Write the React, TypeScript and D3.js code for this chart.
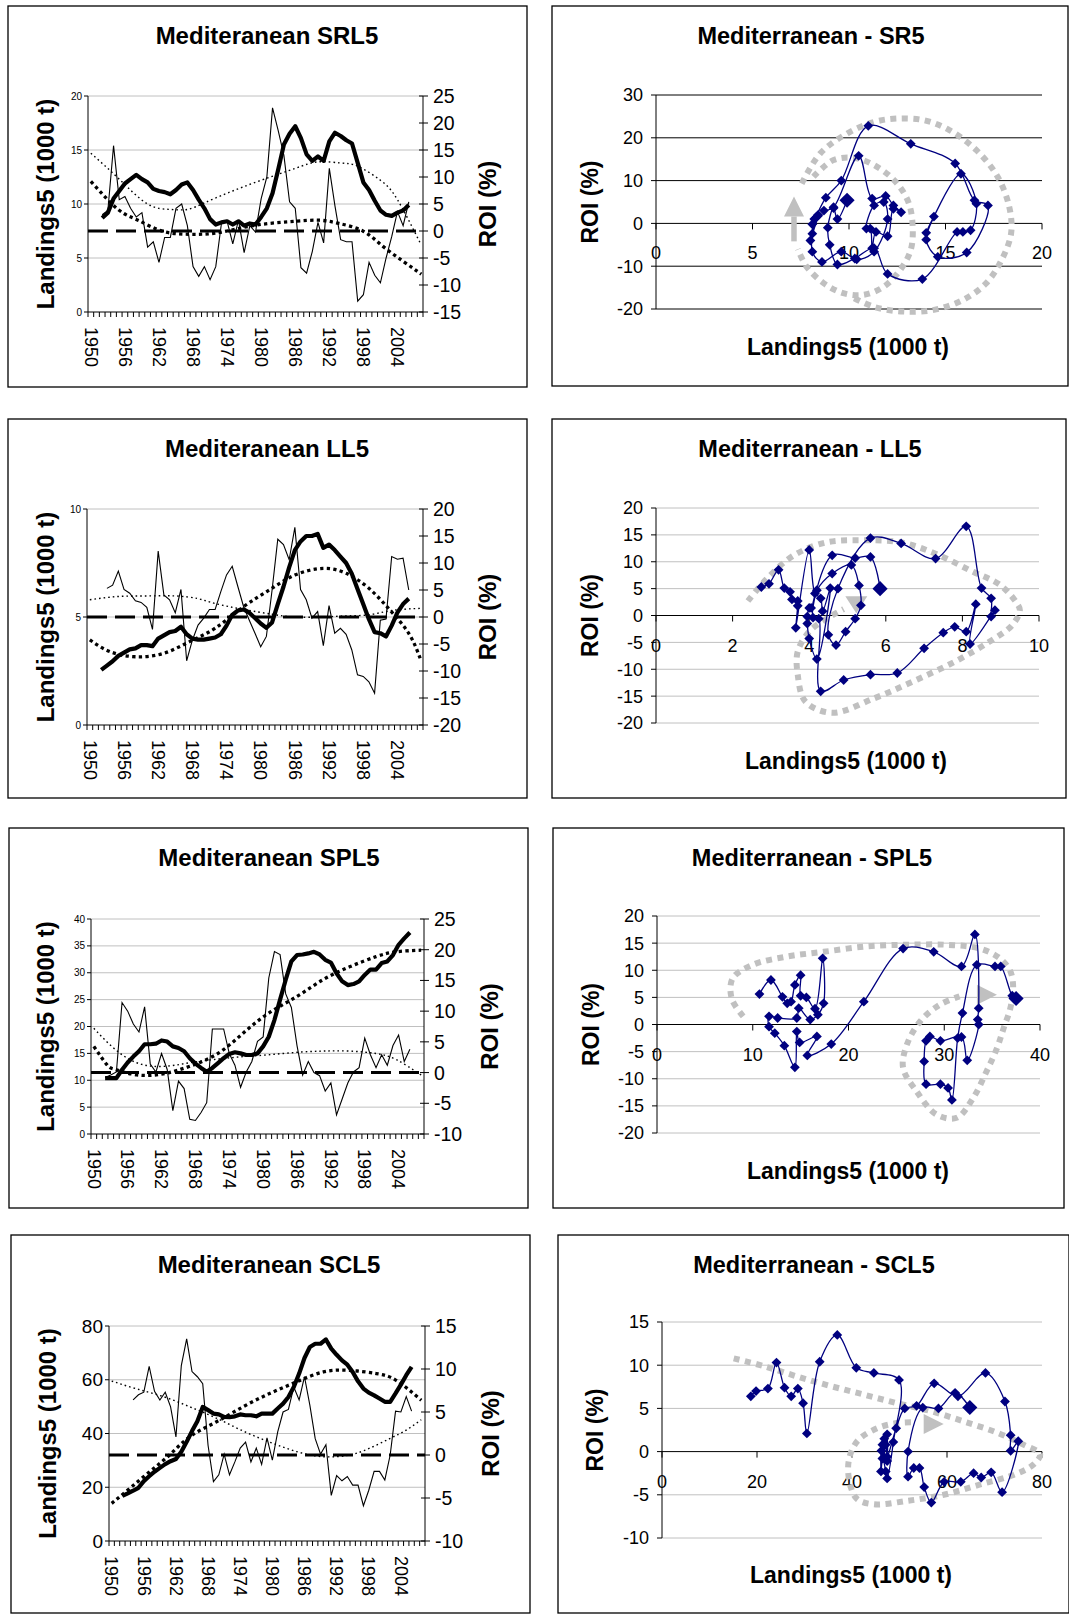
import * as d3 from "d3";

const WIDTH = 1069;
const HEIGHT = 1614;
const FONT = "Arial, 'Liberation Sans', sans-serif";
const NAVY = "#000080";
const GUIDE = "#c0c0c0";

type Pt = [number, number];

// category axis of the time panels (one band per year)
const yearCats = d3.range(1950, 2009);
const dataYears = d3.range(1952, 2007);
const yearLabels = yearCats.filter((y) => (y - 1950) % 6 === 0);

// ---- SRL5 / SR5 ----
const srl5Landings = [8.7, 9.2, 10.5, 11.2, 11.9, 12.3, 12.7, 12.3, 12.0, 11.4, 11.2, 11.1, 10.9, 11.3, 11.8, 12.0, 11.3, 10.4, 9.6, 8.6, 8.1, 8.3, 8.4, 8.1, 8.4, 8.0, 8.2, 8.1, 8.8, 9.6, 11.0, 13.2, 15.5, 16.5, 17.2, 16.1, 14.6, 14.0, 14.4, 14.0, 15.8, 16.6, 16.3, 15.9, 15.6, 13.8, 12.0, 11.3, 10.3, 9.4, 9.0, 8.9, 9.2, 9.4, 9.9];
const srl5Roi = [3.0, 3.8, 15.8, 5.8, 6.4, 4.2, 2.6, 3.4, -3.0, -2.0, -5.8, -1.2, -1.2, 4.2, 5.0, 1.0, -6.6, -8.4, -6.6, -9.0, -6.6, 1.4, 1.8, -2.4, 2.0, -4.0, 1.0, -0.2, 6.0, 10.0, 22.8, 18.6, 14.0, 5.4, 4.2, -6.8, -7.8, -3.8, 1.6, -2.2, 11.6, 4.6, -1.6, -2.0, -2.0, -13.0, -11.8, -5.8, -8.2, -9.6, -5.0, -1.0, 3.6, 1.0, 5.4];
const srl5LandTrend: Pt[] = [[1950, 14.7], [1955, 12.3], [1960, 10.0], [1964, 9.5], [1967, 9.5], [1970, 10.1], [1974, 11.0], [1980, 12.2], [1986, 13.3], [1990, 13.9], [1994, 13.8], [1997, 13.5], [2001, 12.2], [2004, 10.4], [2008, 6.4]];
const srl5RoiTrend: Pt[] = [[1950, 9.2], [1954.8, 4.0], [1958.3, 2.0], [1962.5, 0.0], [1967.2, -0.6], [1971.9, -0.4], [1976.6, 0.6], [1981.4, 1.4], [1986.1, 1.8], [1990.2, 2.0], [1993.7, 1.4], [1997.9, 0.0], [2001.4, -2.8], [2005, -5.6], [2008.2, -8.0]];
const sr5GuideInner: Pt[] = [[8.16, 10.9], [9.2, 14.8], [10.4, 15.2], [11.6, 12.8], [12.5, 9.3], [13.1, 4.7], [13.3, -0.8], [13.2, -6.2], [12.65, -10.9], [11.8, -14.8], [10.75, -16.7], [9.7, -16.3], [8.7, -14.0], [7.8, -10.1], [7.35, -6.0]];
const sr5GuideOuter: Pt[] = [[7.55, 9.3], [8.5, 16.3], [9.9, 21.0], [11.3, 23.7], [12.5, 24.5], [13.9, 24.1], [15.2, 21.8], [16.6, 17.1], [17.7, 10.9], [18.3, 3.9], [18.4, -2.3], [17.9, -8.6], [17.1, -14.0], [15.9, -17.9], [14.4, -20.2], [12.8, -20.6], [11.3, -19.5], [10.1, -17.1]];
const sr5ArrowShaft: Pt[] = [[7.15, -4.2], [7.15, 1.6]];
const sr5Arrow: Pt = [7.15, 6.3];

// ---- LL5 ----
const ll5Landings = [2.55, 2.75, 2.95, 3.2, 3.35, 3.5, 3.55, 3.7, 3.7, 3.65, 4.0, 4.15, 4.3, 4.35, 4.55, 4.2, 4.0, 3.95, 3.95, 4.0, 4.05, 4.2, 4.6, 5.1, 5.3, 5.35, 5.2, 4.95, 4.7, 4.5, 4.75, 5.6, 6.4, 7.3, 8.1, 8.5, 8.75, 8.75, 8.85, 8.2, 8.35, 8.1, 7.8, 7.5, 7.0, 6.3, 5.6, 4.9, 4.3, 4.25, 4.1, 4.6, 5.2, 5.6, 5.85];
const ll5Roi = [null, 5.3, 5.9, 8.5, 5.1, 4.4, 3.0, 2.7, 1.8, -2.3, 12.2, 4.1, 3.2, 0.8, 5.1, -8.1, -4.3, -1.5, -0.2, 1.4, 1.4, 4.7, 7.8, 9.4, 5.6, 1.9, -0.6, -3.0, -5.5, -3.6, 5.0, 14.4, 13.4, 10.6, 16.6, 5.1, 3.2, -0.2, 1.0, -5.3, 2.1, -3.0, -2.1, -3.2, -6.1, -10.7, -11.0, -12.0, -14.1, -0.6, -0.4, 11.2, 10.7, 10.9, 5.0];
const ll5LandTrend: Pt[] = [[1950, 3.94], [1953.5, 3.4], [1958, 3.16], [1963, 3.32], [1967.5, 3.86], [1972, 4.48], [1977, 5.48], [1981.5, 6.25], [1986, 6.94], [1991, 7.25], [1995, 7.02], [1999, 6.33], [2002.7, 5.32], [2006, 4.24], [2008, 3.09]];
const ll5RoiTrend: Pt[] = [[1950, 3.2], [1955, 3.8], [1960, 3.9], [1965, 3.9], [1969, 3.4], [1972, 2.5], [1977, 1.4], [1982, 0.5], [1986, 0], [1991, 0], [1995, 0.2], [1999, 0.4], [2003, 1.2], [2008, 1.6]];
const ll5Guide: Pt[] = [[2.4, 2.7], [2.9, 6.9], [3.6, 11.2], [4.45, 13.6], [5.4, 14.0], [6.4, 13.6], [7.3, 11.5], [8.2, 8.4], [9.0, 5.6], [9.4, 2.5], [9.5, 1.0], [9.3, -1.8], [8.7, -4.9], [7.8, -8.6], [6.7, -12.3], [5.7, -15.4], [4.6, -18.1], [3.9, -16], [3.7, -11], [3.7, -6.7], [4.0, -3.0], [4.45, -0.6], [4.9, 1.2]];
const ll5Arrow: Pt = [5.23, 0.4];

// ---- SPL5 ----
const spl5Landings = [10.4, 10.4, 10.4, 11.95, 13.3, 14.4, 15.4, 16.7, 16.7, 16.8, 17.4, 17.2, 16.3, 16.0, 15.4, 14.1, 13.1, 12.3, 11.6, 12.3, 13.2, 14.1, 14.9, 15.2, 15.0, 14.7, 14.7, 15.0, 16.3, 18.1, 21.2, 25.0, 28.7, 32.1, 33.3, 33.4, 33.6, 33.9, 33.4, 32.4, 31.9, 29.9, 28.4, 27.7, 27.9, 28.4, 29.6, 30.6, 30.6, 31.8, 32.1, 33.3, 35.2, 36.4, 37.5];
const spl5Roi = [-0.8, -0.4, 0.1, 11.4, 10.0, 7.9, 6.6, 10.7, 1.4, 0.1, 3.1, 0.5, -6.2, -1.4, -2.6, -7.6, -7.8, -6.5, -4.9, 7.1, 7.1, 7.1, 3.1, 1.2, -2.4, 0.1, 1.8, 5.1, 5.8, 15.4, 19.7, 19.2, 12.8, 10.6, 4.4, -0.4, 1.8, 0.0, -0.5, -3.0, -1.7, -6.9, -4.3, -1.7, 0.1, 0.8, 5.6, 2.9, 0.8, 2.9, 1.2, 4.4, 6.1, 1.8, 3.8];
const spl5LandTrend: Pt[] = [[1950, 16.3], [1952.3, 12.9], [1953.8, 12.0], [1957.6, 11.0], [1962.3, 11.2], [1967, 12.6], [1972, 15.0], [1976.5, 18.8], [1981, 22.5], [1986, 25.6], [1990.6, 28.7], [1995.3, 31.1], [2000, 33.0], [2003.6, 33.9], [2008, 34.2]];
const spl5RoiTrend: Pt[] = [[1950, 7.2], [1953.5, 4.0], [1957.6, 1.6], [1962.3, 1.0], [1967, 1.6], [1972, 2.2], [1976.5, 2.6], [1981, 2.9], [1986, 3.3], [1990.6, 3.5], [1995.3, 3.5], [2000, 3.1], [2003.6, 2.1], [2008, -0.4]];
// the phase plot of SPL5 is read separately (it does not follow the ROI line above)
const spl5PhaseX = [10.7, 11.9, 13.1, 13.6, 14.0, 14.4, 15.0, 15.0, 15.6, 16.5, 17.3, 17.4, 16.8, 16.0, 14.8, 14.6, 12.6, 11.7, 11.7, 12.3, 13.3, 14.4, 14.6, 14.9, 16.7, 15.7, 18.2, 21.6, 25.7, 28.9, 31.8, 33.2, 33.6, 33.5, 33.6, 32.4, 31.8, 29.6, 28.5, 28.1, 27.9, 28.1, 29.6, 30.4, 30.8, 31.4, 31.9, 33.4, 35.3, 35.9, 37.1, 37.5];
const spl5PhaseY = [5.6, 8.2, 5.1, 3.9, 4.2, 7.3, 9.1, 5.3, 5.0, 2.9, 12.2, 3.9, 1.8, 0.9, 3.0, 1.2, 1.2, 1.5, -0.4, -1.6, -3.9, -7.9, -1.3, -3.3, -2.2, -5.7, -3.6, 4.2, 14.0, 13.4, 10.7, 16.6, 3.0, 0.9, 0.0, -6.6, -2.3, -3.0, -2.2, -3.0, -6.8, -11.0, -11.0, -11.7, -13.9, -2.5, 2.1, 11.0, 10.7, 10.7, 5.3, 4.8];
const spl5Guide: Pt[] = [[9.0, 1.5], [7.8, 4.8], [7.9, 8.5], [10.0, 11.0], [13.5, 12.5], [17.4, 13.4], [21.9, 14.4], [26.1, 14.7], [30.2, 14.7], [33.7, 14.0], [35.8, 12.2], [36.9, 9.8], [37.2, 6.7], [36.9, 3.0], [36.2, -0.7], [35.5, -4.4], [34.4, -8.7], [33.0, -13.6], [31.3, -17.2], [29.2, -16.6], [27.1, -12.3], [25.7, -8.0], [26.1, -3.7], [27.5, 0.6], [29.5, 3.6], [31.6, 5.2]];
const spl5Arrow: Pt = [35.5, 5.5];

// ---- SCL5 ----
const scl5Landings = [16.8, 17.7, 18.7, 19.8, 22.3, 24.1, 25.8, 27.2, 28.6, 29.7, 30.5, 33.2, 36.9, 40.9, 44.6, 49.9, 48.7, 47.4, 47.1, 46.2, 46.1, 46.4, 47.1, 46.8, 46.8, 46.4, 47.4, 47.4, 47.4, 49.3, 51.1, 53.6, 57.3, 62.3, 68.1, 72.2, 73.4, 73.4, 75.0, 71.6, 69.3, 67.2, 65.6, 62.9, 59.4, 56.7, 55.2, 54.2, 53.0, 51.8, 51.8, 54.9, 58.2, 61.7, 64.8];
const scl5Roi = [null, null, 6.4, 7.0, 7.3, 10.3, 7.4, 6.4, 7.3, 5.6, 2.1, 10.4, 13.5, 9.7, 9.1, 8.3, 1.1, -3.1, -2.3, 0.1, -2.3, -0.8, 0.8, 1.5, -0.8, 0.8, -1.1, 2.0, -0.6, 2.7, 5.0, 5.3, 7.9, 6.4, 9.1, 5.8, 1.9, 0.1, 1.2, -4.7, -2.4, -3.0, -2.5, -3.5, -3.5, -5.9, -4.1, -1.9, -1.9, -2.9, 0.0, 5.1, 5.0, 6.8, 5.1];
const scl5LandTrend: Pt[] = [[1950, 14.0], [1953.4, 19.6], [1957.1, 25.8], [1960.8, 32.0], [1964.6, 38.8], [1969.5, 44.3], [1974.5, 49.9], [1979.5, 54.9], [1984.5, 59.2], [1989.5, 62.9], [1994.4, 63.5], [1999.4, 62.3], [2003.1, 59.8], [2007.8, 52.4]];
const scl5RoiTrend: Pt[] = [[1950, 8.6], [1954.6, 7.7], [1959.6, 6.8], [1964.6, 5.6], [1969.5, 4.3], [1974.5, 2.8], [1979.5, 1.5], [1984.5, 0.4], [1989.5, -0.2], [1994.4, 0.0], [1998.2, 0.8], [2001.9, 1.9], [2005, 2.9], [2007.8, 4.1]];
const scl5Guide: Pt[] = [[15.1, 10.8], [21.4, 9.9], [28.4, 8.7], [35.4, 7.6], [42.5, 6.6], [49.5, 5.6], [56.5, 4.7], [63.5, 3.5], [70.5, 2.2], [76.1, 0.8], [79.6, -0.3], [78.2, -1.5], [74.0, -2.7], [67.0, -3.8], [59.3, -5.0], [51.6, -5.7], [44.6, -6.1], [41.1, -5.5], [39.6, -3.8], [39.3, -1.1], [41.1, 1.2], [45.3, 2.7], [49.5, 3.3], [53.0, 3.4]];
const scl5Arrow: Pt = [59.3, 3.2];

const step = (a: number, b: number, s: number) => d3.range(a, b + s / 2, s);

const timePanels = [
  { title: "Mediteranean SRL5", box: [8, 6, 519, 381], plot: { x0: 88, x1: 423, yTop: 96, yBot: 312 }, left: [0, 20], leftTicks: step(0, 20, 5), leftFont: 10, right: [-15, 25], rightTicks: step(-15, 25, 5), landings: srl5Landings, roi: srl5Roi, landTrend: srl5LandTrend, roiTrend: srl5RoiTrend, landThick: false, titleX: 267, labelL: 46, labelR: 488 },
  { title: "Mediteranean LL5", box: [8, 419, 519, 379], plot: { x0: 87, x1: 423, yTop: 509, yBot: 725 }, left: [0, 10], leftTicks: step(0, 10, 5), leftFont: 10, right: [-20, 20], rightTicks: step(-20, 20, 5), landings: ll5Landings, roi: ll5Roi, landTrend: ll5LandTrend, roiTrend: ll5RoiTrend, landThick: true, titleX: 267, labelL: 46, labelR: 488 },
  { title: "Mediteranean SPL5", box: [9, 828, 519, 380], plot: { x0: 91, x1: 424, yTop: 919, yBot: 1134 }, left: [0, 40], leftTicks: step(0, 40, 5), leftFont: 10, right: [-10, 25], rightTicks: step(-10, 25, 5), landings: spl5Landings, roi: spl5Roi, landTrend: spl5LandTrend, roiTrend: spl5RoiTrend, landThick: true, titleX: 269, labelL: 46, labelR: 490 },
  { title: "Mediteranean SCL5", box: [11, 1235, 519, 378], plot: { x0: 109, x1: 425, yTop: 1326, yBot: 1541 }, left: [0, 80], leftTicks: step(0, 80, 20), leftFont: 19, right: [-10, 15], rightTicks: step(-10, 15, 5), landings: scl5Landings, roi: scl5Roi, landTrend: scl5LandTrend, roiTrend: scl5RoiTrend, landThick: true, titleX: 269, labelL: 48, labelR: 491 },
];

const phasePanels = [
  { title: "Mediterranean - SR5", box: [552, 6, 516, 380], plot: { x0: 656, x1: 1042, yTop: 95, yBot: 309 }, xDom: [0, 20], xTicks: step(0, 20, 5), yDom: [-20, 30], yTicks: step(-20, 30, 10), grid: "#000", xs: srl5Landings, ys: srl5Roi, guides: [sr5GuideInner, sr5GuideOuter], shaft: sr5ArrowShaft, arrow: sr5Arrow, arrowDir: "up", titleX: 811, labelY: 590, labelX: 848, labelXBase: 355 },
  { title: "Mediterranean - LL5", box: [552, 419, 514, 379], plot: { x0: 656, x1: 1039, yTop: 508, yBot: 723 }, xDom: [0, 10], xTicks: step(0, 10, 2), yDom: [-20, 20], yTicks: step(-20, 20, 5), grid: "#c0c0c0", xs: ll5Landings, ys: ll5Roi, guides: [ll5Guide], shaft: null, arrow: ll5Arrow, arrowDir: "down", titleX: 810, labelY: 590, labelX: 846, labelXBase: 769 },
  { title: "Mediterranean - SPL5", box: [553, 828, 511, 380], plot: { x0: 657, x1: 1040, yTop: 916, yBot: 1133 }, xDom: [0, 40], xTicks: step(0, 40, 10), yDom: [-20, 20], yTicks: step(-20, 20, 5), grid: "#c0c0c0", xs: spl5PhaseX, ys: spl5PhaseY, guides: [spl5Guide], shaft: null, arrow: spl5Arrow, arrowDir: "right", titleX: 812, labelY: 591, labelX: 848, labelXBase: 1179 },
  { title: "Mediterranean - SCL5", box: [558, 1235, 511, 378], plot: { x0: 662, x1: 1042, yTop: 1322, yBot: 1538 }, xDom: [0, 80], xTicks: step(0, 80, 20), yDom: [-10, 15], yTicks: step(-10, 15, 5), grid: "#c0c0c0", xs: scl5Landings, ys: scl5Roi, guides: [scl5Guide], shaft: null, arrow: scl5Arrow, arrowDir: "right", titleX: 814, labelY: 595, labelX: 851, labelXBase: 1583 },
];

function TimePanel({ c }: { c: any }) {
  const { x0, x1, yTop, yBot } = c.plot;
  const band = d3.scaleBand<number>().domain(yearCats).range([x0, x1]);
  const bw = band.bandwidth();
  const xYear = d3.scaleLinear().domain([1949.5, 2008.5]).range([x0, x1]);
  const yL = d3.scaleLinear().domain(c.left).range([yBot, yTop]);
  const yR = d3.scaleLinear().domain(c.right).range([yBot, yTop]);

  const landPath = d3.line<number>().x((_, i) => xYear(dataYears[i])).y((d) => yL(d))(c.landings);
  const roiPath = d3
    .line<number | null>()
    .defined((d) => d !== null)
    .x((_, i) => xYear(dataYears[i]))
    .y((d) => yR(d as number))(c.roi);
  const trend = (scale: any) => d3.line<Pt>().curve(d3.curveNatural).x((d) => xYear(d[0])).y((d) => scale(d[1]));

  const thinDot = { stroke: "#000", strokeWidth: 1.4, strokeDasharray: "1.6,3", fill: "none" };
  const thickDot = { stroke: "#000", strokeWidth: 3.3, strokeDasharray: "3.3,3.3", fill: "none" };
  const midY = (yTop + yBot) / 2;
  const [bx, by, bwid, bh] = c.box;

  return (
    <g>
      <rect x={bx} y={by} width={bwid} height={bh} fill="#fff" stroke="#000" strokeWidth={1.3} />
      <text x={c.titleX} y={by + 38} textAnchor="middle" fontSize={24} fontWeight="bold">{c.title}</text>

      {c.leftTicks.filter((t: number) => t > 0).map((t: number) => (
        <line key={"g" + t} x1={x0} x2={x1} y1={yL(t)} y2={yL(t)} stroke="#c0c0c0" strokeWidth={1} />
      ))}

      <line x1={x0} x2={x1} y1={yR(0)} y2={yR(0)} stroke="#000" strokeWidth={3} strokeDasharray="20,8" />
      <path d={trend(yL)(c.landTrend) as string} {...(c.landThick ? thickDot : thinDot)} />
      <path d={trend(yR)(c.roiTrend) as string} {...(c.landThick ? thinDot : thickDot)} />
      <path d={roiPath as string} fill="none" stroke="#000" strokeWidth={1.1} />
      <path d={landPath as string} fill="none" stroke="#000" strokeWidth={4.2} strokeLinejoin="round" />

      {/* axes */}
      <line x1={x0} x2={x0} y1={yTop} y2={yBot} stroke="#000" />
      <line x1={x1} x2={x1} y1={yTop} y2={yBot} stroke="#000" />
      <line x1={x0} x2={x1} y1={yBot} y2={yBot} stroke="#000" />
      {c.leftTicks.map((t: number) => (
        <g key={"l" + t}>
          <line x1={x0 - 4} x2={x0} y1={yL(t)} y2={yL(t)} stroke="#000" />
          <text x={x0 - 6} y={yL(t)} dy="0.35em" textAnchor="end" fontSize={c.leftFont}>{t}</text>
        </g>
      ))}
      {c.rightTicks.map((t: number) => (
        <g key={"r" + t}>
          <line x1={x1 - 4} x2={x1 + 5} y1={yR(t)} y2={yR(t)} stroke="#000" />
          <text x={x1 + 10} y={yR(t)} dy="0.36em" fontSize={19.5}>{t}</text>
        </g>
      ))}
      {yearCats.concat([2009]).map((y) => {
        const xx = y === 2009 ? x1 : (band(y) as number);
        return <line key={"t" + y} x1={xx} x2={xx} y1={yBot} y2={yBot + 5} stroke="#000" />;
      })}
      {yearLabels.map((y) => (
        <text key={"y" + y} transform={`translate(${(band(y) as number) + bw / 2},${yBot + 15}) rotate(90)`} dy="0.35em" fontSize={18}>
          {y}
        </text>
      ))}

      <text transform={`translate(${c.labelL},${midY}) rotate(-90)`} dy="0.35em" textAnchor="middle" fontSize={24} fontWeight="bold">
        Landings5 (1000 t)
      </text>
      <text transform={`translate(${c.labelR},${midY}) rotate(-90)`} dy="0.35em" textAnchor="middle" fontSize={24} fontWeight="bold">
        ROI (%)
      </text>
    </g>
  );
}

function PhasePanel({ c }: { c: any }) {
  const { x0, x1, yTop, yBot } = c.plot;
  const x = d3.scaleLinear().domain(c.xDom).range([x0, x1]);
  const y = d3.scaleLinear().domain(c.yDom).range([yBot, yTop]);
  const pts: Pt[] = c.xs
    .map((v: number, i: number) => [v, c.ys[i]])
    .filter((p: any) => p[1] !== null && p[1] !== undefined);
  const trail = d3.line<Pt>().curve(d3.curveCatmullRom.alpha(0.5)).x((d) => x(d[0])).y((d) => y(d[1]))(pts);
  const guide = d3.line<Pt>().curve(d3.curveCatmullRom.alpha(0.5)).x((d) => x(d[0])).y((d) => y(d[1]));
  const straight = d3.line<Pt>().x((d) => x(d[0])).y((d) => y(d[1]));
  const small = d3.symbol(d3.symbolSquare, 48)() as string;
  const big = d3.symbol(d3.symbolSquare, 115)() as string;

  const [ax, ay] = [x(c.arrow[0]), y(c.arrow[1])];
  let head = "";
  if (c.arrowDir === "up") head = `M${ax},${ay}L${ax - 10},${ay + 20}L${ax + 10},${ay + 20}Z`;
  if (c.arrowDir === "down") head = `M${ax},${ay}L${ax - 11},${ay - 17}L${ax + 11},${ay - 17}Z`;
  if (c.arrowDir === "right") head = `M${ax},${ay}L${ax - 20},${ay - 10}L${ax - 20},${ay + 10}Z`;

  const y0 = y(0);
  const [bx, by, bwid, bh] = c.box;
  const last = pts[pts.length - 1];

  return (
    <g>
      <rect x={bx} y={by} width={bwid} height={bh} fill="#fff" stroke="#000" strokeWidth={1.3} />
      <text x={c.titleX} y={by + 38} textAnchor="middle" fontSize={23.5} fontWeight="bold">{c.title}</text>

      {c.yTicks.filter((t: number) => t !== 0).map((t: number) => (
        <line key={"g" + t} x1={x0} x2={x1} y1={y(t)} y2={y(t)} stroke={c.grid} strokeWidth={1} />
      ))}
      <line x1={x0} x2={x0} y1={yTop} y2={yBot} stroke="#000" />
      <line x1={x0} x2={x1} y1={y0} y2={y0} stroke="#000" />
      {c.yTicks.map((t: number) => (
        <g key={"y" + t}>
          <line x1={x0 - 5} x2={x0} y1={y(t)} y2={y(t)} stroke="#000" />
          <text x={x0 - 13} y={y(t)} dy="0.36em" textAnchor="end" fontSize={18}>{t}</text>
        </g>
      ))}
      {c.xTicks.map((t: number) => (
        <g key={"x" + t}>
          <line x1={x(t)} x2={x(t)} y1={y0} y2={y0 + 6} stroke="#000" />
          <text x={x(t)} y={y0 + 36} textAnchor="middle" fontSize={18}>{t}</text>
        </g>
      ))}

      {c.guides.map((g: Pt[], i: number) => (
        <path key={"d" + i} d={guide(g) as string} fill="none" stroke={GUIDE} strokeWidth={6} strokeDasharray="6,5.5" />
      ))}
      {c.shaft && <path d={straight(c.shaft) as string} stroke={GUIDE} strokeWidth={5.5} fill="none" />}
      <path d={head} fill={GUIDE} />

      <path d={trail as string} fill="none" stroke={NAVY} strokeWidth={1.3} />
      {pts.slice(0, -1).map((p, i) => (
        <path key={"m" + i} d={small} transform={`translate(${x(p[0])},${y(p[1])}) rotate(45)`} fill={NAVY} />
      ))}
      <path d={big} transform={`translate(${x(last[0])},${y(last[1])}) rotate(45)`} fill={NAVY} />

      <text transform={`translate(${c.labelY},${(yTop + yBot) / 2}) rotate(-90)`} dy="0.35em" textAnchor="middle" fontSize={23} fontWeight="bold">
        ROI (%)
      </text>
      <text x={c.labelX} y={c.labelXBase} textAnchor="middle" fontSize={23} fontWeight="bold">
        Landings5 (1000 t)
      </text>
    </g>
  );
}

export default function App() {
  return (
    <svg
      width={WIDTH}
      height={HEIGHT}
      viewBox={`0 0 ${WIDTH} ${HEIGHT}`}
      style={{ position: "absolute", left: 0, top: 0, background: "#fff" }}
      fontFamily={FONT}
    >
      <rect width={WIDTH} height={HEIGHT} fill="#fff" />
      {timePanels.map((c) => (
        <TimePanel key={c.title} c={c} />
      ))}
      {phasePanels.map((c) => (
        <PhasePanel key={c.title} c={c} />
      ))}
    </svg>
  );
}
